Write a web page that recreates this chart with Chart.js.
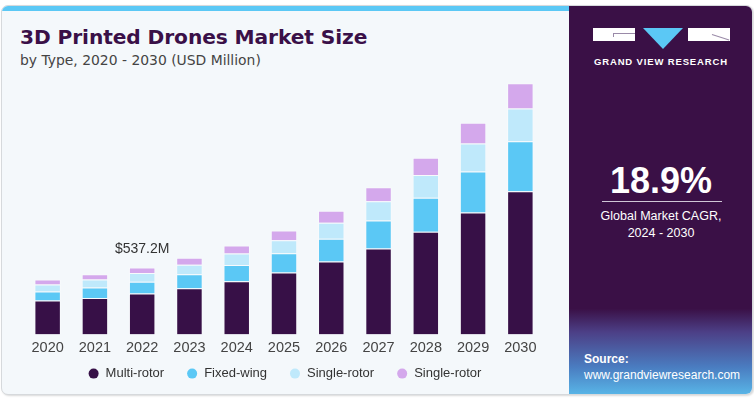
<!DOCTYPE html>
<html>
<head>
<meta charset="utf-8">
<script src="https://cdn.jsdelivr.net/npm/chart.js@4.4.0/dist/chart.umd.min.js"></script>
<style>
  html, body { margin: 0; padding: 0; background: #fff; }
  body { width: 754px; height: 399px; position: relative; overflow: hidden; font-family: "Liberation Sans", Arial, sans-serif; }
  .card { position: absolute; left: 1px; top: 5px; width: 750px; height: 388px; background: #f4f8fb;
          border: 1px solid #d6d9dc; border-radius: 7px; overflow: hidden; box-shadow: 1px 1px 2px rgba(0,0,0,0.15); }
  .stripe { position: absolute; left: 0; top: 0; width: 567px; height: 5px; background: #5bc8f5; }
  .title { position: absolute; left: 18px; top: 19px; font-family: "DejaVu Sans", sans-serif; font-size: 20.2px; font-weight: bold; color: #3a1048; letter-spacing: -0.1px; }
  .sub { position: absolute; left: 18px; top: 46px; font-family: "DejaVu Sans", sans-serif; font-size: 13.9px; color: #444; }
  .panel { position: absolute; left: 567px; top: 0; width: 184px; height: 388px;
           background: linear-gradient(to bottom, #3a1046 0%, #3a1046 78%, #4c3f86 84%, #4a7cc0 93%, #58b4e6 100%); }
  .logo { position: absolute; top: 22px; height: 13px; background: #fff; }
  .tri { position: absolute; left: 74px; top: 22px; width: 0; height: 0;
         border-left: 20px solid transparent; border-right: 20px solid transparent; border-top: 21px solid #5bc8f5; }
  .brand { position: absolute; left: 25px; top: 50px; width: 150px; font-size: 9.5px; font-weight: bold; color: #fff; letter-spacing: 0.85px; }
  .cagr { position: absolute; left: 0; width: 184px; text-align: center; color: #fff; }
  .src { position: absolute; left: 15px; color: #fff; font-size: 12px; }
  canvas { position: absolute; left: 0; top: 70px; }
</style>
</head>
<body>
<div class="card">
  <div class="stripe"></div>
  <div class="title">3D Printed Drones Market Size</div>
  <div class="sub">by Type, 2020 - 2030 (USD Million)</div>
  <div class="panel">
    <div class="logo" style="left:24px;width:42px;">
      <div style="position:absolute;left:20px;top:5px;width:22px;height:1px;background:#9a8aa8;"></div>
      <div style="position:absolute;left:20px;top:5px;width:1px;height:4px;background:#9a8aa8;"></div>
    </div>
    <div class="tri"></div>
    <div class="logo" style="left:119px;width:42px;">
      <div style="position:absolute;left:24px;top:6px;width:18px;height:1px;background:#9a8aa8;transform:rotate(18deg);transform-origin:left;"></div>
    </div>
    <div class="brand">GRAND VIEW RESEARCH</div>
    <div class="cagr" style="top:154px;font-size:36px;font-weight:bold;">18.9%</div>
    <div style="position:absolute;left:33px;top:195px;width:120px;height:1px;background:#cfc6d6;"></div>
    <div class="cagr" style="top:202px;font-size:12.5px;line-height:17px;">Global Market CAGR,<br>2024 - 2030</div>
    <div class="src" style="top:346px;font-weight:bold;">Source:</div>
    <div class="src" style="top:362px;">www.grandviewresearch.com</div>
  </div>
</div>
<canvas id="c" width="568" height="325"></canvas>
<script>
// values, USD million
const years = ['2020', '2021', '2022', '2023', '2024', '2025', '2026', '2027', '2028', '2029', '2030'];
const multiRotor   = [272, 293, 329, 371, 427, 496, 584, 688, 822, 976, 1146];
const fixedWing    = [72, 83, 93, 112, 130, 154, 182, 224, 272, 328, 400];
const singleRotorA = [56, 64, 70, 75, 91, 104, 128, 154, 181, 224, 262];
const singleRotorB = [40, 42, 45, 56, 64, 78, 96, 112, 139, 166, 202];
const callout = { index: 2, text: '$537.2M' };

const FONT = '"Liberation Sans", Arial, sans-serif';

const calloutPlugin = {
  id: 'callout',
  afterDatasetsDraw(chart) {
    const { ctx, scales: { x, y } } = chart;
    const i = callout.index;
    const total = multiRotor[i] + fixedWing[i] + singleRotorA[i] + singleRotorB[i];
    ctx.save();
    ctx.font = '14px ' + FONT;
    ctx.fillStyle = '#333';
    ctx.textAlign = 'center';
    ctx.textBaseline = 'middle';
    ctx.fillText(callout.text, x.getPixelForValue(i), y.getPixelForValue(total) - 18);
    ctx.restore();
  },
};

// dot legend under the axis, centred on the plot area
const legendPlugin = {
  id: 'dotLegend',
  afterDraw(chart) {
    const { ctx, chartArea } = chart;
    const ds = chart.data.datasets;
    ctx.save();
    ctx.font = '13px ' + FONT;
    ctx.textBaseline = 'middle';
    const textOff = 12, gap = 28;
    const widths = ds.map(d => ctx.measureText(d.label).width);
    const total = widths.reduce((a, w) => a + textOff + w, 0) + gap * (ds.length - 1) + 5;
    let x = (chartArea.left + chartArea.right) / 2 - total / 2 + 6;
    const y = chartArea.bottom + 39;
    ds.forEach((d, i) => {
      ctx.fillStyle = d.backgroundColor;
      ctx.beginPath();
      ctx.arc(x, y, 5, 0, Math.PI * 2);
      ctx.fill();
      ctx.fillStyle = '#333';
      ctx.fillText(d.label, x + textOff, y);
      x += textOff + widths[i] + gap;
    });
    ctx.restore();
  },
};

const seg = (label, data, color) => ({
  label, data, backgroundColor: color, borderColor: 'rgba(255,255,255,0.35)', borderWidth: 1,
  categoryPercentage: 0.56, barPercentage: 1,
});

new Chart(document.getElementById('c'), {
  type: 'bar',
  data: {
    labels: years,
    datasets: [
      seg('Multi-rotor', multiRotor, '#371047'),
      seg('Fixed-wing', fixedWing, '#5bc8f5'),
      seg('Single-rotor', singleRotorA, '#bfe9fb'),
      seg('Single-rotor', singleRotorB, '#d4a8ec'),
    ],
  },
  plugins: [calloutPlugin, legendPlugin],
  options: {
    responsive: false,
    animation: false,
    layout: { padding: { left: 24, right: 24, top: 0, bottom: 41 } },
    plugins: {
      legend: { display: false },
      tooltip: { enabled: false },
    },
    scales: {
      x: {
        stacked: true,
        grid: { display: false },
        border: { display: false },
        ticks: { color: '#444', padding: -3, font: { size: 14.5, family: FONT } },
      },
      y: { stacked: true, display: false, min: 0, max: 2115 },
    },
  },
});
</script>
</body>
</html>
